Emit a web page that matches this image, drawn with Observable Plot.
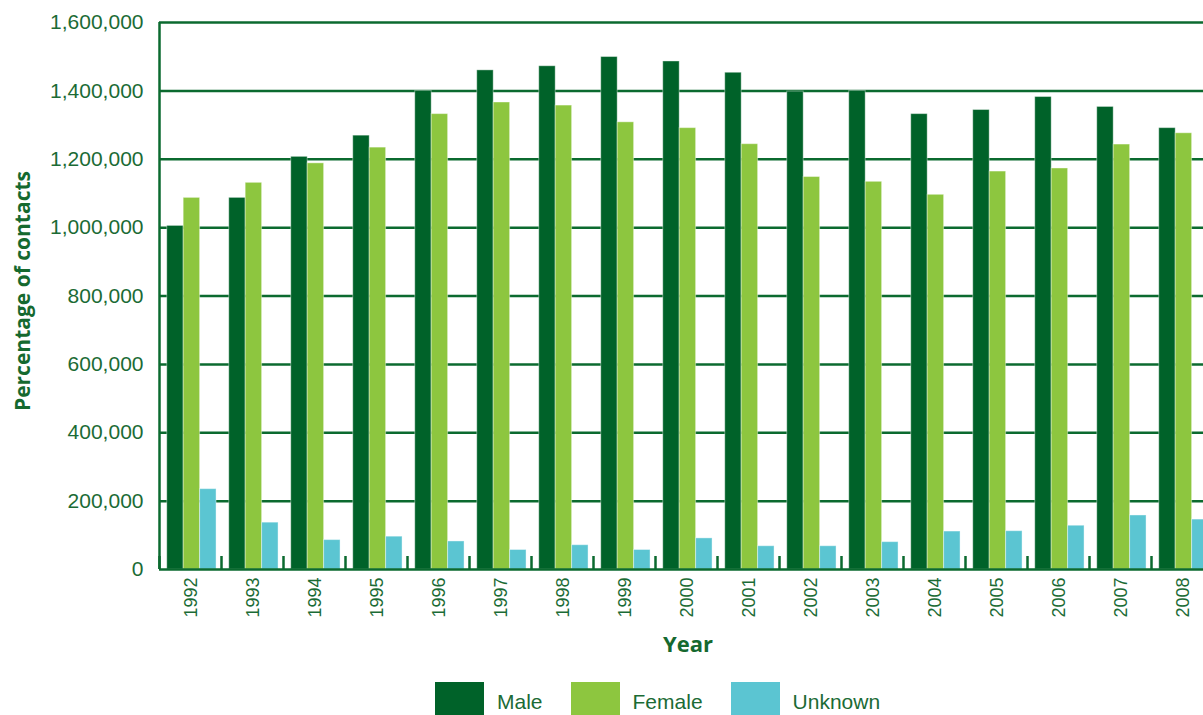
<!DOCTYPE html>
<html>
<head>
<meta charset="utf-8">
<script src="https://cdn.jsdelivr.net/npm/d3@7"></script>
<script src="https://cdn.jsdelivr.net/npm/@observablehq/plot@0.6"></script>
<style>
  html, body { margin: 0; padding: 0; background: #fff; overflow: hidden; width: 1203px; height: 715px; }
  #wrap { position: relative; width: 1203px; height: 715px; overflow: hidden; }
  #chart { position: absolute; left: 0; top: 0; width: 1220px; }
  #chart svg { max-width: none !important; }
  .ytitle { position: absolute; left: 22px; top: 291px; transform: translate(-50%, -50%) rotate(-90deg);
            font: 700 21px "Open Sans", sans-serif; color: #15692f; white-space: nowrap; }
  .xtitle { position: absolute; left: 688px; top: 643px; transform: translate(-50%, -50%);
            font: 700 22px "Open Sans", sans-serif; color: #15692f; white-space: nowrap; }
  #legend { position: absolute; left: 435px; top: 682px; display: flex; gap: 28px; }
  .item { display: flex; align-items: flex-start; }
  .sw { width: 49px; height: 40px; }
  .lab { margin-left: 13px; margin-top: 8px; font: 21px "Liberation Sans", Arial, sans-serif; line-height: 24px; color: #1b6b35; }
</style>
</head>
<body>
<div id="wrap">
  <div id="chart"></div>
  <div class="ytitle" id="ytitle"></div>
  <div class="xtitle" id="xtitle"></div>
  <div id="legend"></div>
</div>
<script>
const years = ["1992","1993","1994","1995","1996","1997","1998","1999","2000","2001","2002","2003","2004","2005","2006","2007","2008"];
const series = ["Male", "Female", "Unknown"];
const colors = ["#006229", "#8dc63f", "#5bc5d2"];
const male    = [1005000, 1087000, 1207000, 1269000, 1400000, 1460000, 1472000, 1499000, 1486000, 1453000, 1398000, 1400000, 1332000, 1344000, 1382000, 1353000, 1291000];
const female  = [1087000, 1131000, 1188000, 1234000, 1332000, 1366000, 1357000, 1308000, 1291000, 1244000, 1148000, 1134000, 1096000, 1164000, 1173000, 1243000, 1276000];
const unknown = [235000, 137000, 86000, 96000, 82000, 57000, 71000, 57000, 91000, 68000, 68000, 80000, 111000, 112000, 128000, 158000, 146000];
const yTicks = [0, 200000, 400000, 600000, 800000, 1000000, 1200000, 1400000, 1600000];
const yTitle = "Percentage of contacts";
const xTitle = "Year";

const values = [male, female, unknown];
const rows = years.flatMap((yr, i) => series.map((s, j) => ({year: yr, sex: s, value: values[j][i]})));

const W = 1220, H = 630, ML = 159, MR = 7, MT = 22, MB = 61;
const step = (W - ML - MR) / years.length;
const barW = step * 0.265, lead = step * 0.125;
const lineColor = "#0b6a2f", textColor = "#1b6b35";

const bars = series.map((s, j) => Plot.barY(rows.filter(d => d.sex === s), {
  x: "year", y: "value", fill: colors[j],
  insetLeft: lead + j * barW, insetRight: step - lead - (j + 1) * barW,
  stroke: "#ffffff", strokeOpacity: 0.4, strokeWidth: 1
}));

const chart = Plot.plot({
  width: W, height: H,
  marginLeft: ML, marginRight: MR, marginTop: MT, marginBottom: MB,
  style: {fontFamily: "'Liberation Sans', Arial, sans-serif", color: textColor, background: "transparent", overflow: "visible", maxWidth: "none"},
  x: {domain: years, padding: 0, label: null},
  y: {domain: [0, 1600000], label: null},
  marks: [
    Plot.ruleY(yTicks.filter(d => d > 0), {stroke: lineColor, strokeWidth: 2.5}),
    ...bars,
    Plot.ruleY([0], {stroke: lineColor, strokeWidth: 2.5}),
    Plot.ruleX(years, {x: d => d, dx: -step / 2, insetTop: (H - MT - MB) - 13, stroke: lineColor, strokeWidth: 2.5}),
    Plot.ruleX([years[0]], {x: d => d, dx: -step / 2, stroke: lineColor, strokeWidth: 2.5}),
    Plot.axisY({ticks: yTicks, tickFormat: d3.format(","), tickSize: 0, tickPadding: 16, fontSize: 21, label: null}),
    Plot.axisX({tickRotate: -90, tickSize: 0, tickPadding: 8, fontSize: 18, label: null, dx: 1})
  ]
});
chart.style.maxWidth = "none";
document.getElementById("chart").appendChild(chart);
document.getElementById("ytitle").textContent = yTitle;
document.getElementById("xtitle").textContent = xTitle;

const legend = document.getElementById("legend");
series.forEach((s, j) => {
  const item = document.createElement("div");
  item.className = "item";
  const sw = document.createElement("div");
  sw.className = "sw";
  sw.style.background = colors[j];
  const lab = document.createElement("div");
  lab.className = "lab";
  lab.textContent = s;
  item.appendChild(sw);
  item.appendChild(lab);
  legend.appendChild(item);
});
</script>
</body>
</html>
